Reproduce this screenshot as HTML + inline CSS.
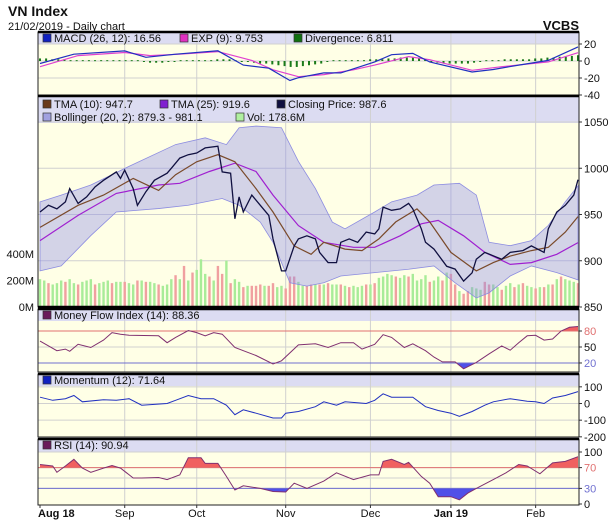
<!DOCTYPE html>
<html><head><meta charset="utf-8"><style>
body{margin:0;background:#fff;width:612px;height:524px;overflow:hidden}
svg{display:block;font-family:"Liberation Sans",sans-serif}
</style></head><body>
<svg id="c" width="612" height="524">
<text x="8" y="16" font-size="14" font-weight="bold" fill="#111">VN Index</text>
<text x="8" y="30" font-size="11" fill="#111">21/02/2019 - Daily chart</text>
<text x="579" y="30" font-size="13" font-weight="bold" fill="#111" text-anchor="end">VCBS</text>
</svg>
<script>
// ---- data ----
const monthLabels=["Aug 18","Sep","Oct","Nov","Dec","Jan 19","Feb"];
const monthDays=[0,20,37,58,78,97,117];
const closeDays=[0,2,4,6,7,9,11,13,15,18,19,20,22,23,25,27,30,31,33,35,37,39,42,43,45,46,47,48,50,52,54,55,57,58,60,61,63,65,66,68,70,71,73,75,77,79,80,81,83,85,87,88,90,91,93,96,98,100,102,103,105,107,109,111,114,116,119,120,122,124,126,127];
const closeVals=[952.7,960,956,963.6,978,962,969,980,987,996,989,998,978,960,974.6,987,994.6,1000,1011,1014.7,1016.5,1022,1023.8,996,994.6,945.4,969,952.7,971,960,949,923.6,889,889,916,923.6,927,923.6,909,898,898,920,923.6,920,931,929,934.5,958,954.5,956,962,956,934.5,920,912.6,894,891,878,887,901.7,909,905.4,901.7,909,911,916,909,934.5,952.7,960,971,987.6];
const tma10Days=[0,9,15,22,28,32,37,42,46,51,55,60,64,67,72,76,80,84,89,92,97,103,107,111,116,120,124,127];
const tma10Vals=[936,960,971,989,976,993,1007,1014.7,1007,978,952.7,916,907,920,912.6,911,923.6,942,956,942,909,889,898,905,911,914.5,931,947.7];
const tma25Days=[0,9,18,28,33,40,46,51,55,61,67,74,79,85,90,94,100,105,111,116,122,127];
const tma25Vals=[921.8,949,972.8,981.9,983.7,996.5,1005.5,996.5,971,938,920,914.5,914.5,927,940,943.6,927,909,896,898,907,919.6];
const bbUpDays=[0,5,12,21,32,39,44,47,51,57,61,65,69,72,79,83,89,93,99,103,106,111,116,120,124,127];
const bbUpVals=[963.7,971,981.9,1002,1025.6,1032.9,1025.6,1043.8,1045.6,1043.8,1007.4,978.2,941.8,934.5,952.7,963.7,971,981.9,983.7,971,920,916.3,921.8,938.2,963.7,981.1];
const bbLoDays=[0,5,12,18,28,35,43,47,52,55,59,63,67,71,79,87,93,98,103,106,111,116,122,127];
const bbLoVals=[889,894.4,927.2,952.7,956.4,960,967.3,960,941.8,920,876.2,872.6,876.2,883.5,887.2,890.8,894.4,876.2,859.8,865.3,883.5,894.4,887.2,879.3];
const volVals=[210,200,180,170,180,200,190,210,180,170,190,200,210,170,180,190,200,180,190,190,190,180,170,200,200,190,190,180,170,160,170,210,240,210,310,200,260,280,360,250,230,200,310,250,350,180,210,190,150,160,160,160,170,160,160,180,150,160,140,230,230,190,160,160,170,170,170,170,180,170,170,170,160,150,160,150,160,170,170,180,220,230,250,240,230,220,240,230,250,200,210,240,190,200,230,200,260,250,170,120,100,120,150,140,130,190,170,170,150,130,160,180,150,170,180,160,150,140,150,150,170,170,210,230,210,200,190,180];
const volUp="11011101101110111011011010110111010101110100101101000100110001100101011010111010111101101111011010010011100110110101101010101110".split("").map(Number);
const macdDays=[0,8,20,25,32,42,48,54,59,61,67,71,79,83,88,92,102,107,113,120,127];
const macdVals=[-3,8,11.9,4.4,8,12,-4.8,-8.5,-23,-19.6,-14,-14,-1,7.4,8.9,-1,-13,-10,-4.8,0.7,16.56];
const sigDays=[0,9,20,26,33,42,50,55,61,67,74,79,87,92,102,109,120,127];
const sigVals=[-6.7,6.3,10,6.3,8,11,0.7,-10.4,-18.5,-16,-10.4,-4.8,5.2,1.5,-11,-6.7,-1,9.753];
const divVals=[3,3,2,2,2,1,1,1,1,1,1,1,1,1,1,1,1,-1,-2,-2,-2,-1,0,1,1,1,1,1,1,2,2,2,1,0,-1,-2,-3,-3,-4,-5,-6,-7,-7,-6,-5,-4,-3,-1,1,1,1,1,1,1,2,2,2,3,3,4,4,4,3,2,-1,-2,-3,-3,-3,-3,-3,-2,-1,1,1,1,2,2,2,2,2,3,3,4,4,5,5,6,6.8];
const mfiDays=[0,4,6,7,9,12,15,17,19,21,28,30,32,35,37,39,41,43,46,49,51,55,57,61,65,68,71,74,76,79,81,83,86,88,91,93,95,98,100,103,106,109,111,113,115,117,119,121,123,125,127];
const mfiVals=[61,43,46,42,55,49,63,77,74,72,71,58,68,81,77,71,77,74,49,40,34,18,24,54,56,49,58,58,46,55,73,68,49,56,43,31,22,22,9,21,37,52,44,58,71,72,63,65,80,87,88.36];
const momDays=[0,3,6,8,10,15,18,21,24,30,32,35,38,41,44,46,48,51,55,57,58,61,65,67,70,72,77,79,81,83,88,91,94,97,99,102,105,107,111,115,117,119,121,124,127];
const momVals=[38,19,29,48,10,23,19,29,-10,0,19,48,29,29,-10,-67,-38,-58,-87,-87,-58,-48,-19,10,-10,10,0,19,58,38,38,-19,-42,-58,-77,-48,-10,10,29,13,10,0,33,48,71.64];
const rsiDays=[0,3,4,6,8,10,12,15,17,19,22,24,28,30,33,35,38,39,42,44,46,48,52,55,58,60,63,67,70,74,78,80,81,83,86,87,90,92,94,97,99,101,103,107,110,113,115,118,121,124,127];
const rsiVals=[76,73,61,73,86,69,61,69,74,69,50,50,51,47,56,89,89,78,78,53,27,35,30,24,23,40,30,44,60,47,56,56,82,86,76,80,53,40,14,14,8,21,30,47,60,76,73,58,79,82,90.94];

// ---- layout ----
const svg=document.getElementById('c');
const NS='http://www.w3.org/2000/svg';
const X0=40,X1=578,PL=38,PR=579,N=127;
const xd=d=>X0+d*(X1-X0)/N;
function el(tag,attrs,parent){const e=document.createElementNS(NS,tag);for(const k in attrs)e.setAttribute(k,attrs[k]);(parent||svg).appendChild(e);return e;}
function pts(days,vals,fy){return days.map((d,i)=>xd(d).toFixed(1)+','+fy(vals[i]).toFixed(1)).join(' ');}
function txt(x,y,s,opt){const t=el('text',Object.assign({x:x,y:y,'font-size':11,fill:'#111'},opt||{}));t.textContent=s;return t;}

const panels=[
 {name:'macd',top:32,hdr:12,bot:95},
 {name:'price',top:96,hdr:27,bot:307},
 {name:'mfi',top:309,hdr:12,bot:372},
 {name:'momentum',top:374,hdr:12,bot:437},
 {name:'rsi',top:439,hdr:13,bot:505}
];
panels.forEach(p=>{
 const g=el('g',{});
 
 
 el('rect',{x:PL,y:p.top,width:PR-PL,height:p.bot-p.top,fill:'#ffffe6'},g);
 const hb=el('rect',{x:PL,y:p.top,width:PR-PL,height:p.hdr,fill:'#dcdcf2'},g);
 
 
 monthDays.forEach(d=>{if(d>0)el('line',{x1:xd(d),x2:xd(d),y1:p.top,y2:p.bot,stroke:'#d0d0d0','stroke-width':1},g);});
 p.g=g;
});
function hgrid(p,y){el('line',{x1:PL,x2:PR,y1:y,y2:y,stroke:'#d0d0d0','stroke-width':1},p.g);}
function rlabel(y,s,col){const t=txt(584,y+4,s,{fill:col||'#111'});el('line',{x1:PR,x2:PR+3,y1:y,y2:y,stroke:'#333'});}
function legendBox(x,y,col,label,name){el('rect',{x:x,y:y-8,width:8,height:8,fill:col,stroke:'#333','stroke-width':0.7});const t=txt(x+11,y,label,{'font-size':11});}

// ---- MACD ----
const yM=v=>61-v*0.85;
[20,0,-20].forEach(v=>hgrid(panels[0],yM(v)));
divVals.forEach((v,i)=>{const d=i*N/(divVals.length-1);const b=el('rect',{x:xd(d)-1,y:Math.min(yM(v),yM(0)),width:2,height:Math.max(1,Math.abs(yM(v)-yM(0))),fill:'#1a7a1a'});
 
 });
let l=el('polyline',{points:pts(sigDays,sigVals,yM),fill:'none',stroke:'#e040d0','stroke-width':1.2});

l=el('polyline',{points:pts(macdDays,macdVals,yM),fill:'none',stroke:'#2030c0','stroke-width':1.2});

legendBox(43,42,'#1020c0','MACD (26, 12): 16.56','legend-macd');
legendBox(180,42,'#e030c0','EXP (9): 9.753','legend-exp');
legendBox(294,42,'#107010','Divergence: 6.811','legend-divergence');
[[20,'20'],[0,'0'],[-20,'-20'],[-40,'-40']].forEach(a=>rlabel(yM(a[0]),a[1]));

// ---- Price ----
const yP=v=>307-(v-850)*0.925;
const yV=v=>307-v*0.1325;
[1050,1000,950,900].forEach(v=>hgrid(panels[1],yP(v)));
volVals.forEach((v,i)=>{const b=el('rect',{x:xd(i)-1.2,y:yV(v),width:2.4,height:307-yV(v),fill:volUp[i]?'#a8ec98':'#f0a0a0'});
 
 });
const up=bbUpDays.map((d,i)=>xd(d)+','+yP(bbUpVals[i])).join(' ');
const lo=bbLoDays.map((d,i)=>xd(d)+','+yP(bbLoVals[i])).reverse().join(' ');
l=el('polygon',{points:up+' '+lo,fill:'rgba(140,140,235,0.38)',stroke:'#8c8ce0','stroke-width':0.8});

l=el('polyline',{points:pts(tma25Days,tma25Vals,yP),fill:'none',stroke:'#a020d0','stroke-width':1.2});

l=el('polyline',{points:pts(tma10Days,tma10Vals,yP),fill:'none',stroke:'#7a4a2a','stroke-width':1.2});

l=el('polyline',{points:pts(closeDays,closeVals,yP),fill:'none',stroke:'#101040','stroke-width':1.3});

legendBox(43,108,'#6a3a1a','TMA (10): 947.7','legend-tma10');
legendBox(160,108,'#8020d0','TMA (25): 919.6','legend-tma25');
legendBox(277,108,'#101040','Closing Price: 987.6','legend-closing-price');
legendBox(43,121,'#a0a0e0','Bollinger (20, 2): 879.3 - 981.1','legend-bollinger');
legendBox(236,121,'#b0f0a0','Vol: 178.6M','legend-volume');
[1050,1000,950,900,850].forEach(v=>rlabel(yP(v),String(v)));
[[400,'400M'],[200,'200M'],[0,'0M']].forEach(a=>{const t=txt(34,yV(a[0])+4,a[1],{'text-anchor':'end'});});

// ---- MFI ----
const yF=v=>331-(v-80)*0.533;
[80,50,20].forEach(v=>hgrid(panels[2],yF(v)));
function bandFill(days,vals,fy,lvl,above,col,id){
 const cp=el('clipPath',{id:id});el('rect',above?{x:PL,y:0,width:PR-PL,height:fy(lvl)}:{x:PL,y:fy(lvl),width:PR-PL,height:200},cp);
 const p=xd(days[0])+','+fy(lvl)+' '+pts(days,vals,fy)+' '+xd(days[days.length-1])+','+fy(lvl);
 const a=el('polygon',{points:p,fill:col,'clip-path':'url(#'+id+')'});
 
 
}
bandFill(mfiDays,mfiVals,yF,80,true,'#f06060','cf1');
bandFill(mfiDays,mfiVals,yF,20,false,'#5050e8','cf2');
el('line',{x1:PL,x2:PR,y1:yF(80),y2:yF(80),stroke:'#e07070'});
el('line',{x1:PL,x2:PR,y1:yF(20),y2:yF(20),stroke:'#7070d0'});
l=el('polyline',{points:pts(mfiDays,mfiVals,yF),fill:'none',stroke:'#803070','stroke-width':1});

legendBox(43,319,'#6a1a5a','Money Flow Index (14): 88.36','legend-mfi');
rlabel(yF(80),'80','#e07070');rlabel(yF(50),'50');rlabel(yF(20),'20','#7070d0');

// ---- Momentum ----
const yO=v=>403.5-v*0.1667;
[100,0,-100].forEach(v=>hgrid(panels[3],yO(v)));
l=el('polyline',{points:pts(momDays,momVals,yO),fill:'none',stroke:'#2030c0','stroke-width':1});

legendBox(43,384,'#1020c0','Momentum (12): 71.64','legend-momentum');
[[100,'100'],[0,'0'],[-100,'-100'],[-200,'-200']].forEach(a=>rlabel(yO(a[0]),a[1]));

// ---- RSI ----
const yR=v=>504-v*0.52;
[100,70,50,30].forEach(v=>hgrid(panels[4],yR(v)));
bandFill(rsiDays,rsiVals,yR,70,true,'#f06060','cr1');
bandFill(rsiDays,rsiVals,yR,30,false,'#5050e8','cr2');
el('line',{x1:PL,x2:PR,y1:yR(70),y2:yR(70),stroke:'#e07070'});
el('line',{x1:PL,x2:PR,y1:yR(30),y2:yR(30),stroke:'#7070d0'});
l=el('polyline',{points:pts(rsiDays,rsiVals,yR),fill:'none',stroke:'#803070','stroke-width':1});

legendBox(43,449,'#6a1a5a','RSI (14): 90.94','legend-rsi');
rlabel(yR(100),'100');rlabel(yR(70),'70','#e07070');rlabel(yR(30),'30','#7070d0');rlabel(yR(0),'0');

// borders
panels.forEach(p=>{el('rect',{x:PL,y:p.top,width:PR-PL,height:p.bot-p.top,fill:'none',stroke:'#222','stroke-width':1});
 el('line',{x1:PL,x2:PR,y1:p.top,y2:p.top,stroke:'#000','stroke-width':2.5});});
el('line',{x1:PL,x2:PR,y1:307,y2:307,stroke:'#000','stroke-width':2.5});
// x labels
monthLabels.forEach((s,i)=>{const bold=i===0||i===5;const t=txt(xd(monthDays[i])+(i===0?-2:0),517,s,{'text-anchor':i===0?'start':'middle','font-weight':bold?'bold':'normal','font-size':11});
 
 
 el('line',{x1:xd(monthDays[i]),x2:xd(monthDays[i]),y1:505,y2:508,stroke:'#333'});});
</script>
</body></html>
